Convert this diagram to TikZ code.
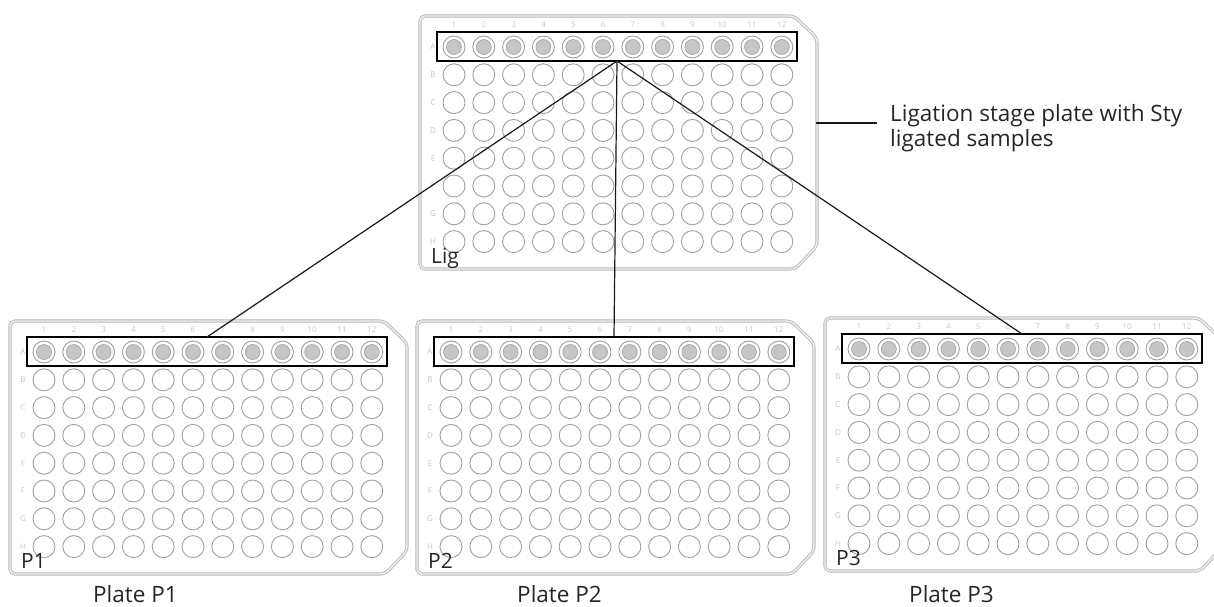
\documentclass[tikz,border=0pt]{standalone}
\usepackage{fontspec}
\setmainfont{Open Sans}
\tikzset{
  x=1pt, y=-1pt,
  plateframe/.style={draw=gray!55, double=gray!12, double distance=1.4pt, line width=0.9pt, rounded corners=5pt},
  well/.style={draw=gray!75, line width=0.9pt},
  wellfill/.style={draw=gray!70, fill=gray!45, line width=0.7pt},
  hl/.style={draw=black, line width=1.3pt, minimum width=360pt, minimum height=29pt, inner sep=0pt, outer sep=0pt},
  conn/.style={draw=black!90, line width=1.2pt},
  tiny/.style={text=gray!45, font=\fontsize{8}{9}\selectfont, inner sep=0pt},
  platelabel/.style={text=black!85, font=\fontsize{21}{24}\selectfont, inner sep=0pt, anchor=base west},
  caption/.style={text=black!85, font=\fontsize{22.5}{26}\selectfont, inner sep=0pt, anchor=base west},
}
\newcommand\drawplate[4]{%
  \begin{scope}[shift={(#2,#3)}]
    \draw[plateframe] (340,-31) -- (363,-9) -- (363,199) -- (341,222) -- (-34,222) -- (-34,-31) -- cycle;
    \foreach \c in {1,...,12}{
      \node[tiny] (#1c\c) at ({(\c-1)*29.8},-22) {\c};
      \draw[well] ({(\c-1)*29.8},0) circle (11);
      \fill[wellfill] ({(\c-1)*29.8},0) circle (7.5);
      \foreach \r in {1,...,7}{
        \draw[well] ({(\c-1)*29.8},{\r*27.8}) circle (11);
      }
    }
    \foreach \l [count=\i from 0] in {A,B,C,D,E,F,G,H}{
      \node[tiny] (#1r\l) at (-21,{\i*27.8}) {\l};
    }
    \node[hl] (#1row) at (163,-0.5) {};
    \node[platelabel] (#1lbl) at (-23,216) {#4};
  \end{scope}
}
\begin{document}
\begin{tikzpicture}
\useasboundingbox (0,0) rectangle (1214,606);
\drawplate{lig}{454}{47}{Lig}
\drawplate{pa}{44}{352}{P1}
\drawplate{pb}{451}{352}{P2}
\drawplate{pc}{859}{349}{P3}
\draw[conn] (ligrow.south) -- (parow.north);
\draw[conn] (ligrow.south) -- (pbrow.north);
\draw[conn] (ligrow.south) -- (pcrow.north);
\coordinate (ligE) at (816,123);
\coordinate (noteL) at (877,123);
\draw[conn] (ligE) -- (noteL);
\node[caption] (note1) at (890,121) {Ligation stage plate with Sty};
\node[caption] (note2) at (890,146) {ligated samples};
\node[caption] (cap1) at (93,602) {Plate P1};
\node[caption] (cap2) at (517,602) {Plate P2};
\node[caption] (cap3) at (909,602) {Plate P3};
\end{tikzpicture}
\end{document}
